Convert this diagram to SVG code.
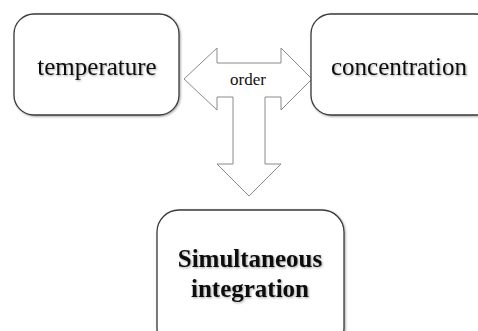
<svg xmlns="http://www.w3.org/2000/svg" width="478" height="331" viewBox="0 0 478 331">
<style>
.box{fill:#fff;stroke:#3a3a3a;stroke-width:1.3}
.lbl{font-family:"Liberation Serif","Times New Roman",serif;font-size:25px;fill:#111;text-anchor:middle}
.b{font-weight:bold}
.arrow{fill:#fff;stroke:#8a8a8a;stroke-width:1}
.small{font-family:"Liberation Serif","Times New Roman",serif;font-size:17px;fill:#111;text-anchor:middle}
</style>
<defs>
<filter id="sh" x="-10%" y="-10%" width="130%" height="130%">
<feDropShadow dx="1" dy="1" stdDeviation="0.8" flood-color="#000" flood-opacity="0.35"/>
</filter>
</defs>
<rect width="478" height="331" fill="#fff"/>
<g id="connectors">
<polygon class="arrow" points="184,79 217,48 217,63 281,63 281,48 312,79 281,110 281,97 265,97 265,164 281,164 249,196 217,164 233,164 233,97 217,97 217,110"/>
<text class="small" x="248" y="85">order</text>
</g>
<g id="temperature">
<rect class="box" x="14" y="14" width="165" height="101" rx="20" filter="url(#sh)"/>
<text class="lbl" x="97" y="75" filter="url(#sh)">temperature</text>
</g>
<g id="concentration">
<rect class="box" x="311" y="14" width="185" height="101" rx="20" filter="url(#sh)"/>
<text class="lbl" x="399" y="75" filter="url(#sh)">concentration</text>
</g>
<g id="simultaneous">
<rect class="box" x="157" y="210" width="187" height="140" rx="22" filter="url(#sh)"/>
<text class="lbl b" x="250" y="267" filter="url(#sh)">Simultaneous</text>
<text class="lbl b" x="250" y="297" filter="url(#sh)">integration</text>
</g>
</svg>
